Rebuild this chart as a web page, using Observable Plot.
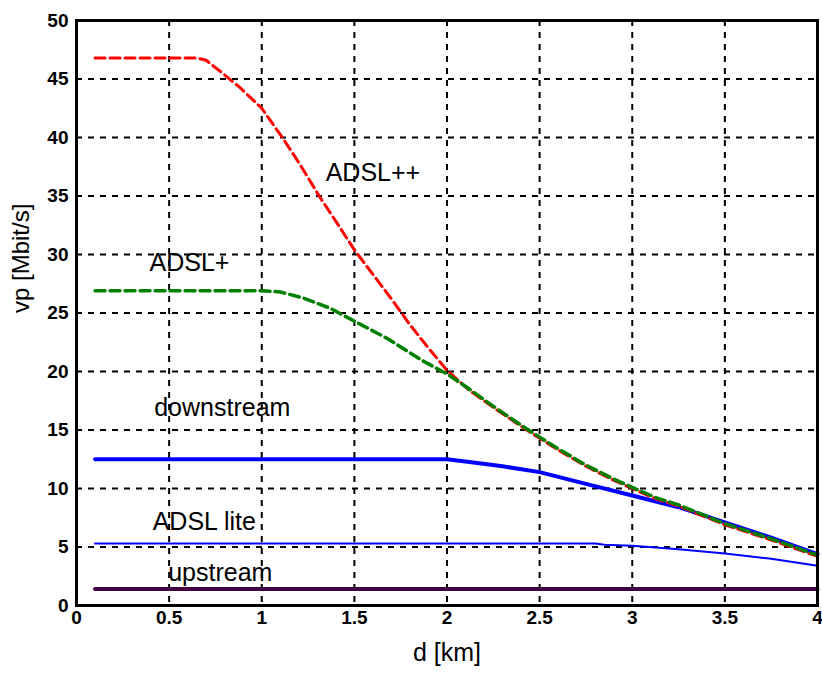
<!DOCTYPE html>
<html>
<head>
<meta charset="utf-8">
<script src="https://cdn.jsdelivr.net/npm/d3@7"></script>
<script src="https://cdn.jsdelivr.net/npm/@observablehq/plot@0.6"></script>
<style>
  html, body { margin: 0; padding: 0; background: #fff; }
  #chart svg { display: block; }
</style>
</head>
<body>
<div id="chart"></div>
<script>
// ADSL++ (red dashed)
const adslPPx = [0.1, 0.65, 0.7, 0.78, 0.88, 1.0, 1.12, 1.21, 1.31, 1.41, 1.5, 1.6, 1.7, 1.8, 1.9, 2.0, 2.12, 2.27, 2.43, 2.6, 2.75, 2.9, 3.0, 3.13, 3.25, 3.5, 3.75, 4.0];
const adslPPy = [46.8, 46.8, 46.6, 45.6, 44.3, 42.5, 39.8, 37.6, 35.0, 32.6, 30.4, 28.3, 26.2, 24.0, 22.0, 20.1, 18.4, 16.7, 15.0, 13.3, 11.9, 10.7, 10.0, 9.1, 8.5, 6.9, 5.6, 4.2];
// ADSL+ (green dashed)
const adslPx = [0.1, 1.0, 1.1, 1.22, 1.37, 1.5, 1.68, 1.87, 2.0, 2.12, 2.27, 2.43, 2.6, 2.75, 2.9, 3.0, 3.13, 3.25, 3.5, 3.75, 4.0];
const adslPy = [26.9, 26.9, 26.8, 26.3, 25.4, 24.3, 22.8, 20.9, 19.8, 18.5, 16.8, 15.1, 13.4, 12.0, 10.8, 10.1, 9.2, 8.6, 7.0, 5.7, 4.3];
// downstream (blue thick)
const downX = [0.1, 2.0, 2.1, 2.3, 2.5, 2.75, 3.0, 3.25, 3.5, 3.75, 4.0];
const downY = [12.5, 12.5, 12.3, 11.9, 11.4, 10.4, 9.4, 8.4, 7.1, 5.8, 4.4];
// ADSL lite (blue thin)
const liteX = [0.1, 2.8, 2.85, 3.0, 3.25, 3.5, 3.75, 4.0];
const liteY = [5.3, 5.3, 5.2, 5.1, 4.8, 4.45, 4.0, 3.4];
// upstream (dark purple)
const upX = [0.1, 4.0];
const upY = [1.4, 1.4];

// text labels
const labelText = ["ADSL++", "ADSL+", "downstream", "ADSL lite", "upstream"];
const labelX = [1.6, 0.61, 0.787, 0.69, 0.776];
const labelY = [37.0, 29.3, 16.9, 7.1, 2.8];

const xTicks = [0, 0.5, 1, 1.5, 2, 2.5, 3, 3.5, 4];
const yTicks = [0, 5, 10, 15, 20, 25, 30, 35, 40, 45, 50];

const toRows = (xs, ys) => xs.map((x, i) => ({x, y: ys[i]}));
const labels = labelText.map((t, i) => ({t, x: labelX[i], y: labelY[i]}));

const chart = Plot.plot({
  width: 822,
  height: 673,
  marginLeft: 76,
  marginRight: 5,
  marginTop: 20,
  marginBottom: 68,
  style: {fontFamily: "Liberation Sans, Arial, sans-serif", background: "#fff", color: "#000"},
  x: {domain: [0, 4], axis: null},
  y: {domain: [0, 50], axis: null},
  marks: [
    Plot.gridX(xTicks, {stroke: "#000", strokeOpacity: 1, strokeWidth: 2, strokeDasharray: "6,6"}),
    Plot.gridY(yTicks, {stroke: "#000", strokeOpacity: 1, strokeWidth: 2, strokeDasharray: "6,6"}),
    // tick labels through the scales
    Plot.text(xTicks, {x: d => d, frameAnchor: "bottom", dy: 18, text: d => String(d), fontSize: 19, fontWeight: "bold", fill: "#000"}),
    Plot.text(yTicks, {y: d => d, frameAnchor: "left", dx: -8, textAnchor: "end", text: d => String(d), fontSize: 19, fontWeight: "bold", fill: "#000"}),
    Plot.line(toRows(upX, upY), {x: "x", y: "y", stroke: "#400040", strokeWidth: 4}),
    Plot.line(toRows(liteX, liteY), {x: "x", y: "y", stroke: "#0000ff", strokeWidth: 2}),
    Plot.line(toRows(downX, downY), {x: "x", y: "y", stroke: "#0000ff", strokeWidth: 4}),
    Plot.line(toRows(adslPPx, adslPPy), {x: "x", y: "y", stroke: "#ff0000", strokeWidth: 3, strokeDasharray: "10,5"}),
    Plot.line(toRows(adslPx, adslPy), {x: "x", y: "y", stroke: "#008000", strokeWidth: 3.5, strokeDasharray: "10,5"}),
    Plot.text(labels, {x: "x", y: "y", text: "t", fontSize: 25, fill: "#000"}),
    Plot.text(["d [km]"], {frameAnchor: "bottom", dy: 55, fontSize: 25, fill: "#000"}),
    Plot.text(["vp [Mbit/s]"], {frameAnchor: "left", rotate: -90, dx: -55, fontSize: 24, fill: "#000"}),
    Plot.frame({stroke: "#000", strokeWidth: 3})
  ]
});
document.getElementById("chart").append(chart);
</script>
</body>
</html>
